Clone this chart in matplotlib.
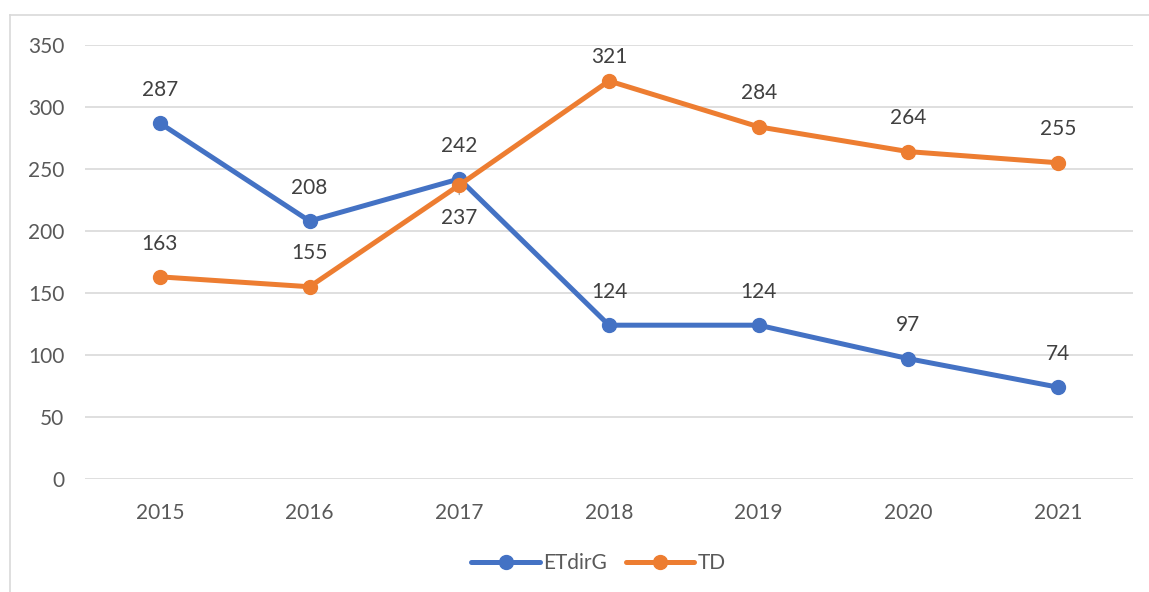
import matplotlib.pyplot as plt
from matplotlib.lines import Line2D

plt.rcParams['font.family'] = ['Lato', 'DejaVu Sans']

years = ['2015', '2016', '2017', '2018', '2019', '2020', '2021']
etdirg = [287, 208, 242, 124, 124, 97, 74]
td = [163, 155, 237, 321, 284, 264, 255]

blue = '#4472C4'
orange = '#ED7D31'

fig = plt.figure(figsize=(11.49, 5.92), dpi=100)
ax = fig.add_axes([0.074, 0.191, 0.912, 0.733])

x = list(range(len(years)))
ax.plot(x, etdirg, color=blue, lw=3.6, marker='o', ms=10, label='ETdirG',
        solid_capstyle='round', zorder=3)
ax.plot(x, td, color=orange, lw=3.6, marker='o', ms=10, label='TD',
        solid_capstyle='round', zorder=4)

lab = dict(textcoords='offset points', ha='center', va='center',
           fontsize=15, color='#404040')
for i, v in enumerate(etdirg):
    ax.annotate(str(v), (i, v), xytext=(0, 24), **lab)
for i, v in enumerate(td):
    if years[i] == '2017':
        ax.annotate(str(v), (i, v), xytext=(0, -24),
                    arrowprops=dict(arrowstyle='-', color='#A6A6A6', lw=1,
                                    shrinkA=8, shrinkB=4), **lab)
    elif years[i] == '2018':
        ax.annotate(str(v), (i, v), xytext=(0, 17), **lab)
    else:
        ax.annotate(str(v), (i, v), xytext=(0, 24), **lab)

ax.set_xlim(-0.5, len(years) - 0.5)
ax.set_ylim(0, 350)
ax.set_yticks(range(0, 351, 50))
ax.set_xticks(x)
ax.set_xticklabels(years)
ax.tick_params(length=0, labelsize=15, colors='#595959')
ax.tick_params(axis='x', pad=17)
ax.tick_params(axis='y', pad=15)
ax.grid(axis='y', color='#D9D9D9', lw=1.2)
ax.set_axisbelow(True)
for s in ax.spines.values():
    s.set_visible(False)

ax.legend(loc='center', bbox_to_anchor=(0.49, -0.194), ncol=2, frameon=False,
          fontsize=15, handlelength=3.3, columnspacing=0.9, handletextpad=0.15,
          labelcolor='#595959')

# chart border (left and top edges visible)
fig.add_artist(Line2D([10 / 1149, 10 / 1149], [0, 1 - 15 / 592],
                      transform=fig.transFigure, color='#D9D9D9', lw=1.2))
fig.add_artist(Line2D([10 / 1149, 1], [1 - 15 / 592, 1 - 15 / 592],
                      transform=fig.transFigure, color='#D9D9D9', lw=1.2))

fig.savefig('out.png', dpi=100)
